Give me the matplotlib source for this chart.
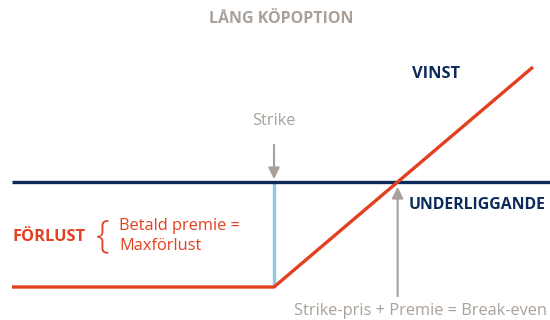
import matplotlib.pyplot as plt

plt.rcParams['font.family'] = ['Open Sans', 'DejaVu Sans']

# Kurs på underliggande (x) och resultat (y), i samma enheter som bilden
kurs = [12, 274, 533]
resultat = [-105, -105, 115]
strike = 274
premie = 105
break_even = strike + premie * (kurs[2] - strike) / (resultat[2] - resultat[1])

red = '#e2401f'
navy = '#0c2a5b'
blue = '#8ec9e9'
grey = '#a9a19a'

fig = plt.figure(figsize=(5.5, 3.2), dpi=100)
ax = fig.add_axes([0, 0, 1, 1])
ax.set_xlim(0, 550)
ax.set_ylim(-138, 182)
ax.axis('off')

# nollinje (underliggande)
ax.plot([12, 550], [0, 0], color=navy, lw=2.4, solid_capstyle='butt', zorder=2)
# max förlust vid strike
ax.plot([strike, strike], [0, -premie], color=blue, lw=2.4, solid_capstyle='butt', zorder=1)
# resultatkurva
ax.plot(kurs, resultat, color=red, lw=2.4, solid_capstyle='butt', zorder=3)

# pilar
ax.annotate('', xy=(strike, 0), xytext=(strike, 40),
            arrowprops=dict(arrowstyle='-|>', color=grey, lw=1.5, mutation_scale=17))
ax.annotate('', xy=(break_even, -2), xytext=(break_even, -117),
            arrowprops=dict(arrowstyle='-|>', color=grey, lw=1.5, mutation_scale=17))

# texter
fs = 11.8
ax.text(281, 163, 'LÅNG KÖPOPTION', color=grey, fontsize=11.5, fontweight='bold',
        ha='center', va='center')
ax.text(strike, 61, 'Strike', color=grey, fontsize=fs, ha='center', va='center')
ax.text(436, 108, 'VINST', color=navy, fontsize=fs, fontweight='bold', ha='center', va='center')
ax.text(409, -23, 'UNDERLIGGANDE', color=navy, fontsize=11.4, fontweight='bold',
        ha='left', va='center')
ax.text(12, -55, 'FÖRLUST', color=red, fontsize=fs, fontweight='bold', ha='left', va='center')
ax.text(103, -55, '{', color=red, fontsize=28, ha='center', va='center', fontweight='light')
ax.text(119, -44, 'Betald premie =', color=red, fontsize=fs, ha='left', va='center')
ax.text(119, -64, 'Maxförlust', color=red, fontsize=fs, ha='left', va='center')
ax.text(421, -129, 'Strike-pris + Premie = Break-even', color=grey, fontsize=fs,
        ha='center', va='center')

fig.savefig('out.png', dpi=100)
